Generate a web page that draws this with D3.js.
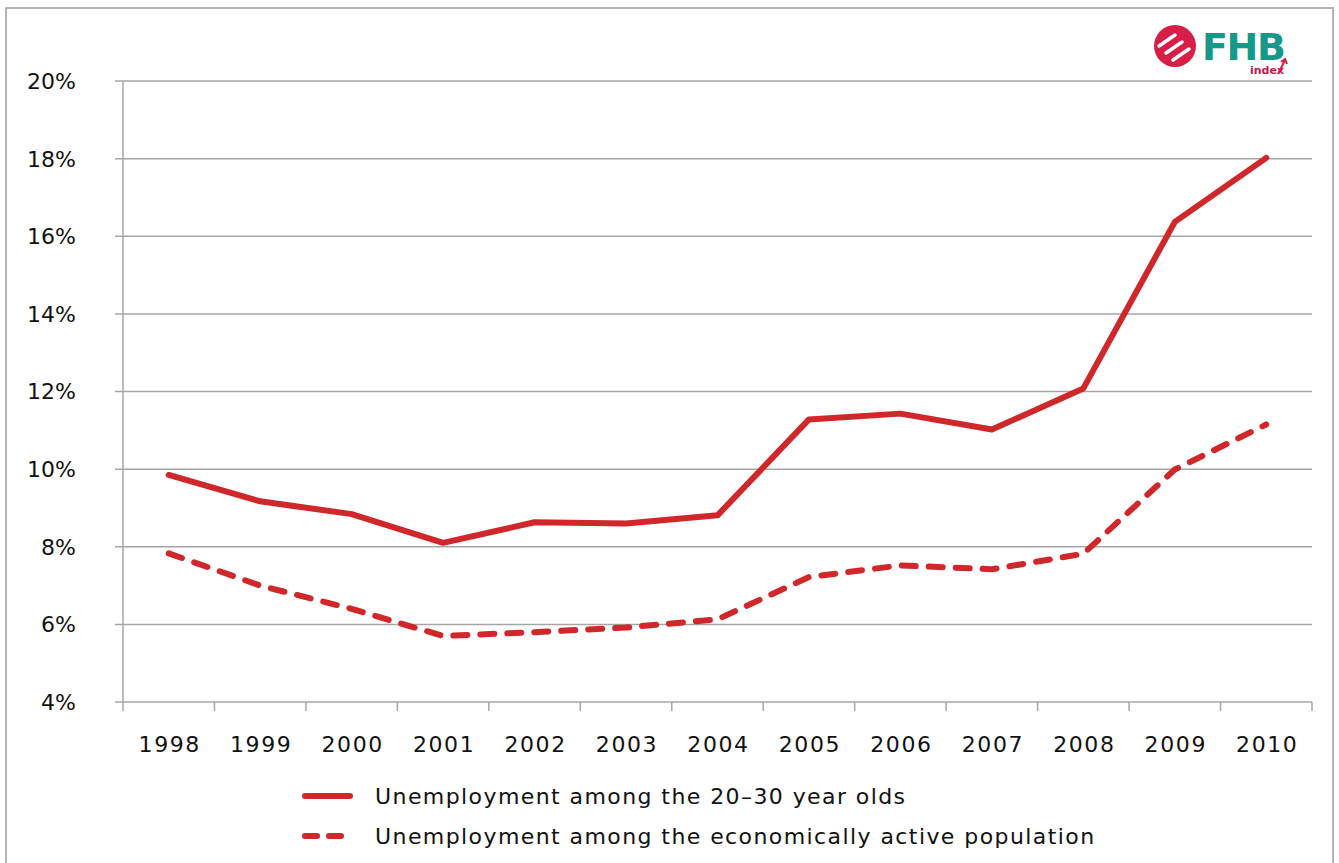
<!DOCTYPE html>
<html><head><meta charset="utf-8">
<script src="https://cdn.jsdelivr.net/npm/d3@7"></script>
<style>
html,body{margin:0;padding:0;background:#fff;}
svg{display:block;font-family:"DejaVu Sans",Verdana,sans-serif;}
</style></head>
<body><svg id="c" width="1339" height="863"></svg>
<script>
const years = ["1998","1999","2000","2001","2002","2003","2004","2005","2006","2007","2008","2009","2010"];
const youth = [9.85, 9.17, 8.84, 8.10, 8.63, 8.60, 8.81, 11.28, 11.43, 11.02, 12.08, 16.37, 18.02];
const active = [7.83, 7.00, 6.40, 5.70, 5.80, 5.92, 6.13, 7.22, 7.52, 7.42, 7.82, 9.99, 11.15];
const yTicks = [4, 6, 8, 10, 12, 14, 16, 18, 20];
const seriesNames = ["Unemployment among the 20\u201330 year olds", "Unemployment among the economically active population"];

const svg = d3.select("#c");
const red = "#d0272b", grid = "#a6a6a6";
const L = 123, R = 1312, T = 81, B = 702;

// outer frame
svg.append("rect").attr("x", 6).attr("y", 8).attr("width", 1327).attr("height", 870)
  .attr("fill", "none").attr("stroke", "#b4b4b4").attr("stroke-width", 2);

const x = d3.scaleBand().domain(years).range([L, R]).paddingInner(0).paddingOuter(0);
const y = d3.scaleLinear().domain([4, 20]).range([B, T]);

// gridlines
svg.append("g").selectAll("line").data(yTicks).join("line")
  .attr("x1", L - 8).attr("x2", R).attr("y1", d => y(d)).attr("y2", d => y(d))
  .attr("stroke", grid).attr("stroke-width", 1.5);

// y labels
svg.append("g").selectAll("text").data(yTicks).join("text")
  .attr("x", 76).attr("y", d => y(d)).attr("dy", "0.36em").attr("text-anchor", "end")
  .attr("font-size", 22).attr("fill", "#111").text(d => d + "%");

// y axis line
svg.append("line").attr("x1", L).attr("x2", L).attr("y1", T).attr("y2", B)
  .attr("stroke", grid).attr("stroke-width", 1.5);

// x ticks
const bounds = years.map(d => x(d)).concat([R]);
svg.append("g").selectAll("line").data(bounds).join("line")
  .attr("x1", d => d).attr("x2", d => d).attr("y1", B).attr("y2", B + 9)
  .attr("stroke", grid).attr("stroke-width", 1.5);

// x labels
svg.append("g").selectAll("text").data(years).join("text")
  .attr("x", d => x(d) + x.bandwidth() / 2 + 1).attr("y", 752).attr("text-anchor", "middle")
  .attr("font-size", 22).attr("letter-spacing", 1.6).attr("fill", "#111").text(d => d);

const line = d3.line().x((d, i) => x(years[i]) + x.bandwidth() / 2).y(d => y(d));

svg.append("path").datum(active).attr("d", line).attr("fill", "none")
  .attr("stroke", red).attr("stroke-width", 6).attr("stroke-linecap", "round")
  .attr("stroke-linejoin", "round").attr("stroke-dasharray", "14 13");
svg.append("path").datum(youth).attr("d", line).attr("fill", "none")
  .attr("stroke", red).attr("stroke-width", 6).attr("stroke-linecap", "round")
  .attr("stroke-linejoin", "round");

// legend
const leg = svg.append("g");
[0, 1].forEach(i => {
  const yy = 796 + i * 40;
  leg.append("line").attr("x1", 305).attr("x2", 350).attr("y1", yy).attr("y2", yy)
    .attr("stroke", red).attr("stroke-width", 6).attr("stroke-linecap", "round")
    .attr("stroke-dasharray", i === 1 ? "12 12" : null);
  leg.append("text").attr("x", 375).attr("y", yy).attr("dy", "0.36em")
    .attr("font-size", 22).attr("letter-spacing", 1.42).attr("fill", "#111").text(seriesNames[i]);
});

// logo
const logo = svg.append("g");
logo.append("circle").attr("cx", 1175).attr("cy", 46).attr("r", 21).attr("fill", "#d81e48");
[-7, 0, 7].forEach(o => {
  logo.append("line").attr("x1", 1166 + o).attr("y1", 53 + o).attr("x2", 1182 + o).attr("y2", 42 + o)
    .attr("stroke", "#fff").attr("stroke-width", 3.5).attr("stroke-linecap", "round");
});
logo.append("text").attr("x", 1202).attr("y", 60).attr("font-family", "'DejaVu Sans',sans-serif")
  .attr("font-weight", "bold").attr("font-size", 38).attr("fill", "#17998a").attr("textLength", 84)
  .text("FHB");
logo.append("text").attr("x", 1284).attr("y", 74).attr("font-weight", "bold").attr("text-anchor", "end")
  .attr("font-size", 11).attr("fill", "#c8174a").text("index");
logo.append("path").attr("d", "M1278,74 L1285,60 M1281,62 L1285,59 L1287,64")
  .attr("stroke", "#d81e48").attr("stroke-width", 2).attr("fill", "none");
</script></body></html>
